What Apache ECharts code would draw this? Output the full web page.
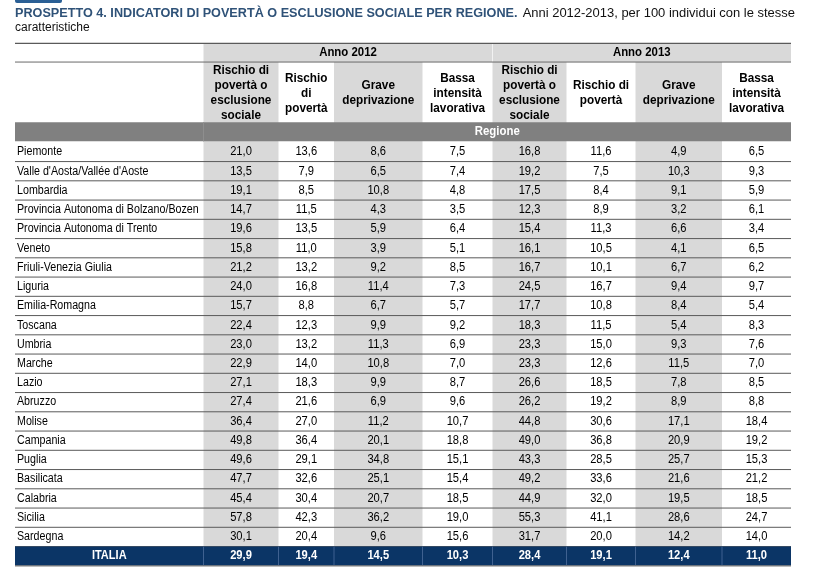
<!DOCTYPE html>
<html><head><meta charset="utf-8">
<script src="https://cdn.jsdelivr.net/npm/echarts@6/dist/echarts.min.js"></script>
<style>html,body{margin:0;padding:0;background:#fff}#c{width:813px;height:578px}</style>
</head><body><div id="c"></div>
<script>
// ---------- DATA ----------
const regions = ["Piemonte","Valle d'Aosta/Vallée d'Aoste","Lombardia","Provincia Autonoma di Bolzano/Bozen","Provincia Autonoma di Trento","Veneto","Friuli-Venezia Giulia","Liguria","Emilia-Romagna","Toscana","Umbria","Marche","Lazio","Abruzzo","Molise","Campania","Puglia","Basilicata","Calabria","Sicilia","Sardegna","ITALIA"];
const rischioPovEscl2012 = [21.0,13.5,19.1,14.7,19.6,15.8,21.2,24.0,15.7,22.4,23.0,22.9,27.1,27.4,36.4,49.8,49.6,47.7,45.4,57.8,30.1,29.9];
const rischioPov2012     = [13.6,7.9,8.5,11.5,13.5,11.0,13.2,16.8,8.8,12.3,13.2,14.0,18.3,21.6,27.0,36.4,29.1,32.6,30.4,42.3,20.4,19.4];
const graveDepr2012      = [8.6,6.5,10.8,4.3,5.9,3.9,9.2,11.4,6.7,9.9,11.3,10.8,9.9,6.9,11.2,20.1,34.8,25.1,20.7,36.2,9.6,14.5];
const bassaInt2012       = [7.5,7.4,4.8,3.5,6.4,5.1,8.5,7.3,5.7,9.2,6.9,7.0,8.7,9.6,10.7,18.8,15.1,15.4,18.5,19.0,15.6,10.3];
const rischioPovEscl2013 = [16.8,19.2,17.5,12.3,15.4,16.1,16.7,24.5,17.7,18.3,23.3,23.3,26.6,26.2,44.8,49.0,43.3,49.2,44.9,55.3,31.7,28.4];
const rischioPov2013     = [11.6,7.5,8.4,8.9,11.3,10.5,10.1,16.7,10.8,11.5,15.0,12.6,18.5,19.2,30.6,36.8,28.5,33.6,32.0,41.1,20.0,19.1];
const graveDepr2013      = [4.9,10.3,9.1,3.2,6.6,4.1,6.7,9.4,8.4,5.4,9.3,11.5,7.8,8.9,17.1,20.9,25.7,21.6,19.5,28.6,14.2,12.4];
const bassaInt2013       = [6.5,9.3,5.9,6.1,3.4,6.5,6.2,9.7,5.4,8.3,7.6,7.0,8.5,8.8,18.4,19.2,15.3,21.2,18.5,24.7,14.0,11.0];
const yearLabels = ["Anno 2012","Anno 2013"];
const subHeaders = ["Rischio di\npovertà o\nesclusione\nsociale","Rischio\ndi\npovertà","Grave\ndeprivazione","Bassa\nintensità\nlavorativa","Rischio di\npovertà o\nesclusione\nsociale","Rischio di\npovertà","Grave\ndeprivazione","Bassa\nintensità\nlavorativa"];
const bandLabel = "Regione";
const titleBold = "PROSPETTO 4. INDICATORI DI POVERTÀ O ESCLUSIONE SOCIALE PER REGIONE.";
const titleRest = "Anni 2012-2013, per 100 individui con le stesse";
const titleLine2 = "caratteristiche";

// ---------- LAYOUT (styles only) ----------
const FONT = '"Liberation Sans", Arial, sans-serif';
const colWidths = [188.5, 75, 55.5, 88.5, 70, 74, 69, 86.5, 69];
const edges = [0]; colWidths.forEach(w => edges.push(edges[edges.length-1] + w));
const TOTALW = edges[edges.length-1];
const grayCols = [1,3,5,7];
const Yl = {annoTop:-5.14, annoBot:-4.17, regTop:-1.04, regBot:-0.05};
const GRAY = '#d9d9d9', BAND = '#808080', NAVY = '#0b3566', LINE = '#5a5a5a';
const series = [rischioPovEscl2012, rischioPov2012, graveDepr2012, bassaInt2012, rischioPovEscl2013, rischioPov2013, graveDepr2013, bassaInt2013];
const fmt = v => v.toFixed(1).replace('.', ',');
const nData = regions.length - 1;

function txt(text, x, y, align, font, fill, sx, extra) {
  return {type:'text', x:x, y:y, scaleX:sx || 1,
    style:Object.assign({text:text, x:0, y:0, align:align, verticalAlign:'middle', font:font, fill:fill}, extra || {})};
}

function headerRender(params, api) {
  const X = u => api.coord([u, 0])[0];
  const Y = v => api.coord([0, v])[1];
  const ch = [];
  grayCols.forEach(c => {
    ch.push({type:'rect', shape:{x:X(edges[c]), y:Y(Yl.annoBot), width:X(edges[c+1])-X(edges[c]), height:Y(nData)-Y(Yl.annoBot)}, style:{fill:GRAY}});
  });
  ch.push({type:'rect', shape:{x:X(edges[1]), y:Y(Yl.annoTop), width:X(TOTALW)-X(edges[1]), height:Y(Yl.annoBot)-Y(Yl.annoTop)}, style:{fill:GRAY}});
  ch.push({type:'line', shape:{x1:X(edges[5]), y1:Y(Yl.annoTop), x2:X(edges[5]), y2:Y(Yl.annoBot)}, style:{stroke:'#f2f2f2', lineWidth:1}});
  yearLabels.forEach((t, k) => {
    const a = edges[1 + 4*k], b = edges[5 + 4*k];
    ch.push(txt(t, (X(a)+X(b))/2, (Y(Yl.annoTop)+Y(Yl.annoBot))/2, 'center', 'bold 12px ' + FONT, '#000', 0.95));
  });
  ch.push({type:'line', shape:{x1:X(0), y1:Y(Yl.annoTop), x2:X(TOTALW), y2:Y(Yl.annoTop)}, style:{stroke:LINE, lineWidth:1.2}});
  ch.push({type:'line', shape:{x1:X(0), y1:Y(Yl.annoBot), x2:X(TOTALW), y2:Y(Yl.annoBot)}, style:{stroke:'#6a6a6a', lineWidth:1}});
  subHeaders.forEach((t, k) => {
    const a = edges[k+1], b = edges[k+2];
    ch.push(txt(t, (X(a)+X(b))/2, (Y(Yl.annoBot)+Y(Yl.regTop))/2 + 1.5, 'center', 'bold 12px ' + FONT, '#000', 0.98, {lineHeight:15}));
  });
  ch.push({type:'rect', shape:{x:X(0), y:Y(Yl.regTop), width:X(TOTALW)-X(0), height:Y(Yl.regBot)-Y(Yl.regTop)}, style:{fill:BAND}});
  ch.push({type:'line', shape:{x1:X(edges[1]), y1:Y(Yl.regTop), x2:X(edges[1]), y2:Y(Yl.regBot)}, style:{stroke:'#8e8e8e', lineWidth:1}});
  ch.push(txt(bandLabel, (X(edges[1])+X(TOTALW))/2, (Y(Yl.regTop)+Y(Yl.regBot))/2, 'center', 'bold 12px ' + FONT, '#fff', 0.95));
  return {type:'group', children:ch};
}

function rowRender(params, api) {
  const X = u => api.coord([u, 0])[0];
  const Y = v => api.coord([0, v])[1];
  const i = api.value(0);
  const yTop = Y(i), yBot = Y(i+1), yc = (yTop + yBot)/2;
  const isTotal = i === nData;
  const ch = [];
  if (isTotal) {
    ch.push({type:'rect', shape:{x:X(0), y:yTop, width:X(TOTALW)-X(0), height:yBot-yTop}, style:{fill:NAVY}});
    for (let c = 1; c < edges.length-1; c++) {
      ch.push({type:'line', shape:{x1:X(edges[c]), y1:yTop, x2:X(edges[c]), y2:yBot}, style:{stroke:'#3f6190', lineWidth:1}});
    }
    ch.push(txt(regions[i], (X(0)+X(edges[1]))/2, yc, 'center', 'bold 12px ' + FONT, '#fff', 0.92));
  } else {
    ch.push(txt(regions[i], X(0)+2, yc, 'left', '12px ' + FONT, '#000', 0.89));
  }
  series.forEach((arr, k) => {
    const a = edges[k+1], b = edges[k+2];
    ch.push(txt(fmt(arr[i]), (X(a)+X(b))/2, yc, 'center', (isTotal?'bold ':'') + '12px ' + FONT, isTotal?'#fff':'#000', 0.93));
  });
  ch.push({type:'line', shape:{x1:X(0), y1:yBot, x2:X(TOTALW), y2:yBot}, style:{stroke:isTotal?'#7a7a7a':LINE, lineWidth:isTotal?1.2:1}});
  return {type:'group', children:ch};
}

const chart = echarts.init(document.getElementById('c'), null, {renderer:'canvas'});
chart.setOption({
  animation:false,
  backgroundColor:'#fff',
  grid:{left:15, right:22, top:43, bottom:12.2},
  xAxis:{type:'value', min:0, max:TOTALW, show:false},
  yAxis:{type:'value', min:-5.16, max:nData+1, inverse:true, show:false},
  graphic:[
    {type:'rect', x:15, y:0, shape:{width:47, height:3, r:[0,0,2,2]}, style:{fill:'#2a5f95'}},
    {type:'text', x:15, y:13.5, scaleX:0.937, style:{text:titleBold, x:0, y:0, verticalAlign:'middle', font:'bold 13.5px ' + FONT, fill:'#2f5278'}},
    {type:'text', x:795, y:13.5, scaleX:0.96, style:{text:titleRest, x:0, y:0, align:'right', verticalAlign:'middle', font:'13.5px ' + FONT, fill:'#111'}},
    {type:'text', x:15, y:27.5, style:{text:titleLine2, x:0, y:0, verticalAlign:'middle', font:'12px ' + FONT, fill:'#111'}}
  ],
  series:[
    {type:'custom', renderItem:headerRender, data:[[0]], silent:true},
    {type:'custom', renderItem:rowRender, data:regions.map((r, i) => [i]), silent:true}
  ]
});
</script></body></html>
